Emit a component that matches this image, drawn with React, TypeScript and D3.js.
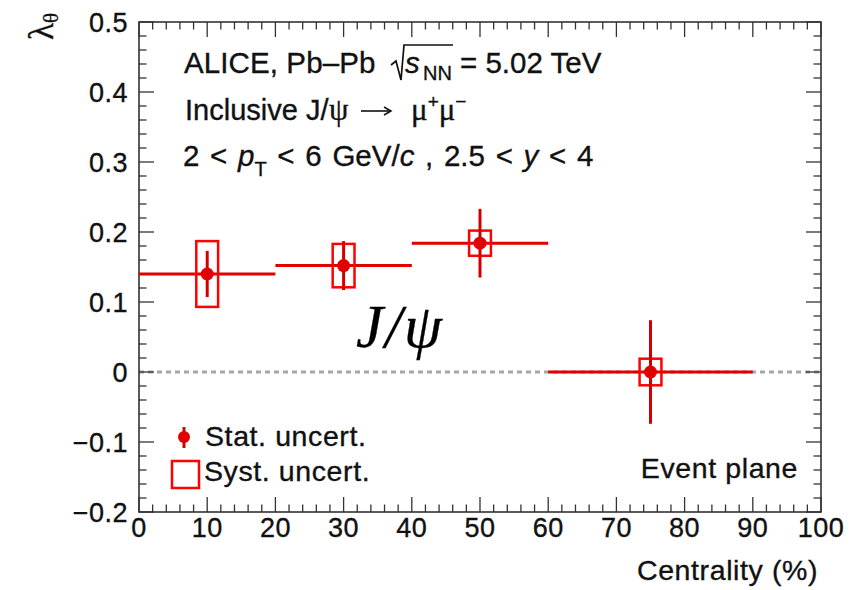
import React from "react";
import * as d3 from "d3";

const binLow = [0, 20, 40, 60];
const binHigh = [20, 40, 60, 90];
const centrality = [10, 30, 50, 75];
const lambdaTheta = [0.14, 0.152, 0.184, 0.0];
const statUnc = [0.033, 0.035, 0.049, 0.074];
const systUnc = [0.047, 0.031, 0.018, 0.019];
const xTicks = [0, 10, 20, 30, 40, 50, 60, 70, 80, 90, 100];
const yTicks = [-0.2, -0.1, 0, 0.1, 0.2, 0.3, 0.4, 0.5];
const yTickLabels = ["\u22120.2", "\u22120.1", "0", "0.1", "0.2", "0.3", "0.4", "0.5"];

const W = 855;
const H = 590;
const L = 139, R = 821, T = 22, B = 512;
const RED = "#e00000";
const SANS = "'Liberation Sans', Arial, Helvetica, sans-serif";
const SERIF = "'Liberation Serif', 'Times New Roman', serif";
const INK = "#111";

export default function App() {
  const x = d3.scaleLinear().domain([0, 100]).range([L, R]);
  const y = d3.scaleLinear().domain([-0.2, 0.5]).range([B, T]);
  const xMinor = d3.range(0, 100.001, 2);
  const yMinor = d3.range(-0.2, 0.5001, 0.02);
  const boxHalf = 1.6;
  const fs = 28.5;
  const hfs = 29.5;
  const textStroke = { stroke: INK, strokeWidth: 0.35 };

  return (
    <svg width={W} height={H} style={{ position: "absolute", left: 0, top: 0, background: "#fff" }}>
      {/* zero line */}
      <line x1={x(0)} x2={x(100)} y1={y(0)} y2={y(0)} stroke="#a6a6a6" strokeWidth={3} strokeDasharray="5,4" />

      {/* ticks */}
      <g stroke="#333" strokeWidth={1.3}>
        {xMinor.map((v, i) => {
          const major = i % 5 === 0;
          const len = major ? 15 : 7.5;
          return (
            <g key={"xm" + i}>
              <line x1={x(v)} x2={x(v)} y1={B} y2={B - len} />
              <line x1={x(v)} x2={x(v)} y1={T} y2={T + len} />
            </g>
          );
        })}
        {yMinor.map((v, i) => {
          const major = i % 5 === 0;
          const len = major ? 15 : 7.5;
          return (
            <g key={"ym" + i}>
              <line x1={L} x2={L + len} y1={y(v)} y2={y(v)} />
              <line x1={R} x2={R - len} y1={y(v)} y2={y(v)} />
            </g>
          );
        })}
      </g>
      <rect x={L} y={T} width={R - L} height={B - T} fill="none" stroke="#333" strokeWidth={1.6} />

      {/* tick labels */}
      <g fontFamily={SANS} fontSize={27} fill={INK} letterSpacing={0.5} {...textStroke}>
        {xTicks.map((v) => (
          <text key={"xl" + v} x={x(v)} y={537} textAnchor="middle">{v}</text>
        ))}
        {yTicks.map((v, i) => (
          <text key={"yl" + v} x={128} y={y(v) + 9.6} textAnchor="end">{yTickLabels[i]}</text>
        ))}
      </g>

      {/* axis titles */}
      <text x={818} y={580} textAnchor="end" fontFamily={SANS} fontSize={fs} letterSpacing={0.6} fill={INK} {...textStroke}>Centrality (%)</text>
      <text transform="translate(53,13) rotate(-90)" textAnchor="end" fontFamily={SERIF} fill={INK} {...textStroke}>
        <tspan fontSize={35}>λ</tspan>
        <tspan fontSize={21} dy={5}>θ</tspan>
      </text>

      {/* data: horizontal bin widths */}
      {lambdaTheta.map((v, i) => (
        <line key={"h" + i} x1={x(binLow[i])} x2={x(binHigh[i])} y1={y(v)} y2={y(v)} stroke={RED} strokeWidth={3} />
      ))}
      {/* systematic boxes */}
      {lambdaTheta.map((v, i) => (
        <rect key={"s" + i}
          x={x(centrality[i] - boxHalf)} width={x(centrality[i] + boxHalf) - x(centrality[i] - boxHalf)}
          y={y(v + systUnc[i])} height={y(v - systUnc[i]) - y(v + systUnc[i])}
          fill="none" stroke="#ff0000" strokeWidth={2.5} />
      ))}
      {/* stat bars */}
      {lambdaTheta.map((v, i) => (
        <line key={"e" + i} x1={x(centrality[i])} x2={x(centrality[i])} y1={y(v + statUnc[i])} y2={y(v - statUnc[i])} stroke="#d00000" strokeWidth={3} />
      ))}
      {lambdaTheta.map((v, i) => (
        <circle key={"p" + i} cx={x(centrality[i])} cy={y(v)} r={6.5} fill={RED} />
      ))}

      {/* header text */}
      <g fontFamily={SANS} fontSize={hfs} fill={INK} {...textStroke}>
        {/* line 1 */}
        <text x={184} y={73} letterSpacing={0.1}>ALICE, Pb–Pb</text>
        <path d="M391,65 L396,61 L401,80 L404,45 L453,45" fill="none" stroke={INK} strokeWidth={1.7} />
        <text x={405} y={73} fontStyle="italic">s</text>
        <text x={423} y={80} fontSize={20}>NN</text>
        <text x={460} y={73}>= 5.02 TeV</text>

        {/* line 2 */}
        <text x={185} y={120} fontSize={29}>Inclusive</text>
        <text x={306} y={120} fontSize={29}>J/</text>
        <text x={329} y={120} fontFamily={SERIF} fontSize={31}>ψ</text>
        <path d="M361,111 L390,111" stroke={INK} strokeWidth={1.6} fill="none" />
        <path d="M384,107 L391,111 L384,115" stroke={INK} strokeWidth={1.5} fill="none" />
        <text x={411} y={120} fontFamily={SERIF} fontSize={31}>
          μ<tspan fontSize={19} dy={-12} fontFamily={SANS}>+</tspan>
          <tspan dy={12}>μ</tspan>
          <tspan fontSize={19} dy={-12} fontFamily={SANS}>−</tspan>
        </text>

        {/* line 3 */}
        <text x={183} y={166} wordSpacing={2.5}>
          2 &lt; <tspan fontStyle="italic">p</tspan>
          <tspan fontSize={20} dy={10}>T</tspan>
          <tspan dy={-10}> &lt; 6 GeV/</tspan>
          <tspan fontStyle="italic">c</tspan>
          <tspan> , 2.5 &lt; </tspan>
          <tspan fontStyle="italic">y</tspan>
          <tspan> &lt; 4</tspan>
        </text>
      </g>

      {/* J/psi label */}
      <text x={356} y={347} fontFamily={SERIF} fontStyle="italic" fontSize={61} letterSpacing={2} fill="#000" stroke="#000" strokeWidth={0.3}>J/ψ</text>

      {/* legend */}
      <line x1={184} x2={184} y1={427} y2={448} stroke="#d00000" strokeWidth={3} />
      <circle cx={184} cy={437} r={6} fill={RED} />
      <rect x={172} y={461} width={27} height={27} fill="none" stroke="#ff0000" strokeWidth={2.5} />
      <g fontFamily={SANS} fontSize={fs} fill={INK} letterSpacing={0.6} {...textStroke}>
        <text x={205} y={446}>Stat. uncert.</text>
        <text x={204} y={481}>Syst. uncert.</text>
        <text x={798} y={478} textAnchor="end">Event plane</text>
      </g>
    </svg>
  );
}
